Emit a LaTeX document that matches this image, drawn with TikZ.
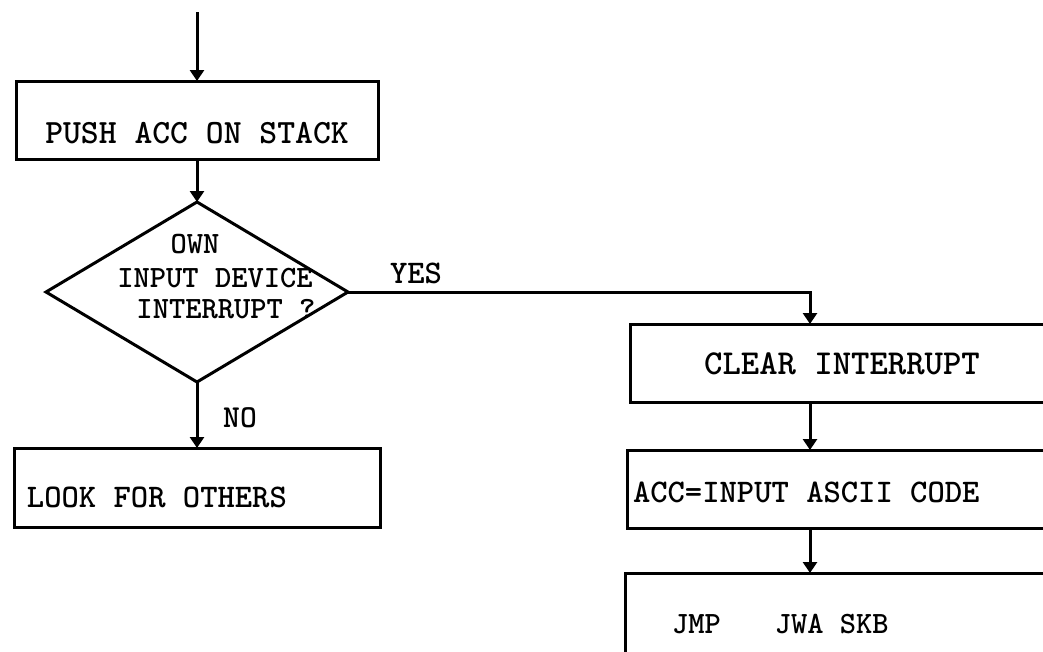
\documentclass[tikz,border=0pt]{standalone}
\usepackage{fontspec}
\usetikzlibrary{shapes.geometric,arrows.meta,calc}
\begin{document}
\begin{tikzpicture}[x=1pt,y=-1pt,
  line width=3pt,
  box/.style={draw, rectangle, inner sep=0pt, outer sep=0pt, anchor=north west},
  flow/.style={-{Triangle[width=14pt,length=11pt]}},
  txt/.style={inner sep=0pt, outer sep=0pt, font=\ttfamily\bfseries\fontsize{#1}{#1}\selectfont}]
\useasboundingbox (0,0) rectangle (1043,651);
\clip (0,0) rectangle (1043,651);
% boxes
\node[box, minimum width=362pt, minimum height=78pt] (push) at (16,81) {};
\node[draw, diamond, minimum width=302pt, minimum height=180pt, inner sep=0pt, outer sep=0pt] (dia) at (197,292) {};
\node[box, minimum width=366pt, minimum height=79pt] (look) at (14,448) {};
\node[box, minimum width=500pt, minimum height=78pt] (clear) at (630,324) {};
\node[box, minimum width=500pt, minimum height=78pt] (acc) at (627,450) {};
\node[box, minimum width=500pt, minimum height=150pt] (jmp) at (625,573) {};
% texts
\node[txt=34, anchor=base] (tpush) at (197,143) {PUSH ACC ON STACK};
\node[txt=31, anchor=base] (t1) at (195,253) {OWN};
\node[txt=31, anchor=base] (t2) at (215,287) {INPUT DEVICE};
\node[txt=31, anchor=base] (t3) at (226,318) {INTERRUPT ?};
\node[txt=33, anchor=base] (tyes) at (416,283) {YES};
\node[txt=32, anchor=base] (tno) at (240,427) {NO};
\node[txt=33, anchor=base west] (tlook) at (27,507) {LOOK FOR OTHERS};
\node[txt=35, anchor=base] (tclear) at (842,374) {CLEAR INTERRUPT};
\node[txt=33, anchor=base west] (tacc) at (633,502) {ACC=INPUT ASCII CODE};
\node[txt=31, anchor=base west] (tjmp) at (672,633) {JMP\hspace{54pt}JWA SKB};
% connectors
\coordinate (start) at (197,12);
\coordinate (rx) at (810,0);
\draw[flow] (start) -- (push.north);
\draw[flow] (push.south) -- (dia.north);
\draw[flow] (dia.south) -- (look.north);
\draw[flow] (dia.east) -| (clear.north -| rx);
\draw[flow] (clear.south -| rx) -- (acc.north -| rx);
\draw[flow] (acc.south -| rx) -- (jmp.north -| rx);
\end{tikzpicture}
\end{document}
